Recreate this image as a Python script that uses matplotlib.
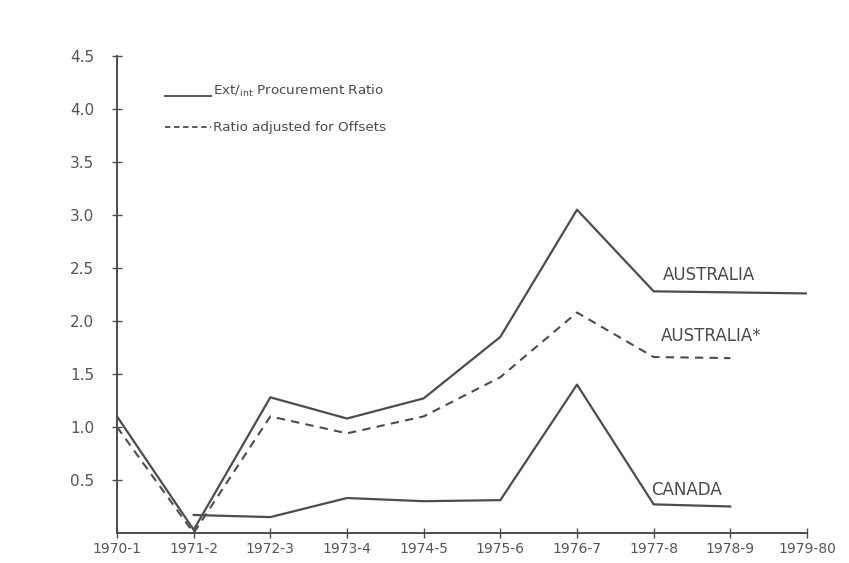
# 1970s procurement ratio chart — Australia / Australia (offset-adjusted) / Canada
import matplotlib
matplotlib.use("Agg")
import matplotlib.pyplot as plt

years = ["1970-1", "1971-2", "1972-3", "1973-4", "1974-5",
         "1975-6", "1976-7", "1977-8", "1978-9", "1979-80"]
y_ticks = [0.5, 1.0, 1.5, 2.0, 2.5, 3.0, 3.5, 4.0, 4.5]
y_labels = ["0.5", "1.0", "1.5", "2.0", "2.5", "3.0", "3.5", "4.0", "4.5"]

australia = [1.10, 0.03, 1.28, 1.08, 1.27, 1.85, 3.05, 2.28, 2.27, 2.26]
australia_adj = [1.00, 0.00, 1.10, 0.94, 1.10, 1.47, 2.08, 1.66, 1.65]
canada_years = years[1:9]
canada = [0.17, 0.15, 0.33, 0.30, 0.31, 1.40, 0.27, 0.25]

INK = "#4d4d4d"
TXT = "#4a4a4a"
plt.rcParams["font.family"] = ["DejaVu Sans"]

fig = plt.figure(figsize=(8.49, 5.63), dpi=100)
ax = fig.add_axes([117 / 849, 30 / 563, 690 / 849, 477 / 563])

x_all = list(range(len(years)))
ax.plot(x_all, australia, color=INK, lw=1.6)
ax.plot(x_all[:len(australia_adj)], australia_adj, color=INK, lw=1.5,
        dashes=(4, 3))
ax.plot([years.index(y) for y in canada_years], canada, color=INK, lw=1.6)

ax.set_xlim(0, 9)
ax.set_ylim(0, 4.5)
ax.set_xticks(x_all)
ax.set_xticklabels(years, fontsize=10, color="#555555")
ax.set_yticks(y_ticks)
ax.set_yticklabels(y_labels, fontsize=11, color="#555555")
ax.tick_params(axis="both", direction="inout", length=7, width=1, color=INK)
ax.tick_params(axis="y", pad=13)
ax.tick_params(axis="x", pad=3)
for side in ("top", "right"):
    ax.spines[side].set_visible(False)
for side in ("left", "bottom"):
    ax.spines[side].set_color(INK)
    ax.spines[side].set_linewidth(1.4)

# series labels
ax.text(7.12, 2.43, "AUSTRALIA", fontsize=12, color=TXT, va="center")
ax.text(7.1, 1.86, "AUSTRALIA*", fontsize=12, color=TXT, va="center")
ax.text(6.97, 0.41, "CANADA", fontsize=12, color=TXT, va="center")

# key
ax.plot([0.63, 1.22], [4.12, 4.12], color=INK, lw=1.3, clip_on=False)
ax.text(1.25, 4.17, r"Ext/$_{\mathregular{int}}$ Procurement Ratio", fontsize=9.7,
        color=TXT, va="center")
ax.plot([0.63, 1.22], [3.83, 3.83], color=INK, lw=1.3, dashes=(3, 2))
ax.text(1.25, 3.83, "Ratio adjusted for Offsets", fontsize=9.7,
        color=TXT, va="center")

fig.savefig("out.png", dpi=100)
